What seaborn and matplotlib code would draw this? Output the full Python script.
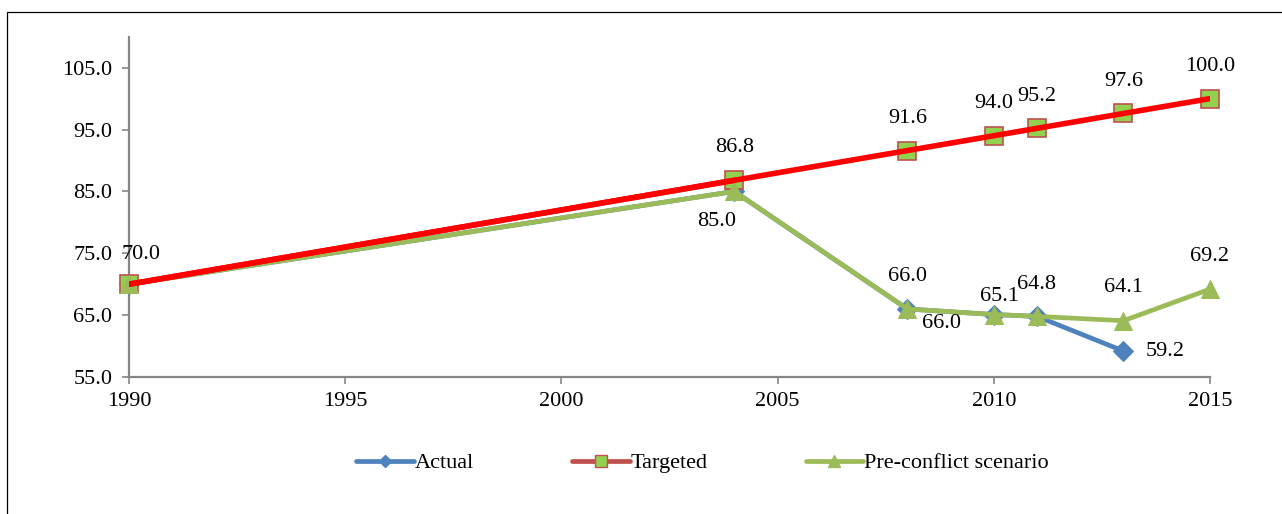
import matplotlib
matplotlib.use("Agg")
import matplotlib.pyplot as plt
import seaborn as sns
from matplotlib.lines import Line2D
from matplotlib.patches import Rectangle

# --------------------------
# Data
# --------------------------
actual_years = [1990, 2004, 2008, 2010, 2011, 2013]
actual_vals = [70.0, 85.0, 66.0, 65.1, 64.8, 59.2]

target_years = [1990, 2004, 2008, 2010, 2011, 2013, 2015]
target_vals = [70.0, 86.8, 91.6, 94.0, 95.2, 97.6, 100.0]

pre_years = [1990, 2004, 2008, 2010, 2011, 2013, 2015]
pre_vals = [70.0, 85.0, 66.0, 65.1, 64.8, 64.1, 69.2]

y_ticks = [55, 65, 75, 85, 95, 105]
x_ticks = [1990, 1995, 2000, 2005, 2010, 2015]

BLUE = "#4F81BD"
GREEN = "#9BBB59"
RED = "#FF0000"
DARKRED = "#C0504D"
SQ_FACE = "#92D050"
AXIS = "#868686"

sns.set_style("white")
plt.rcParams['font.family'] = ['Liberation Serif', 'DejaVu Serif']
plt.rcParams['text.color'] = 'black'
FS = 16

fig = plt.figure(figsize=(12.82, 5.14), dpi=100)
ax = fig.add_axes([0.1006, 0.2665, 0.8432, 0.662])

# outer chart border
fig.patches.append(Rectangle((7 / 1282, -0.05), 1.2, 1 - 12 / 514 + 0.05,
                             transform=fig.transFigure, fill=False,
                             edgecolor="#000000", linewidth=0.9))

# Actual
sns.lineplot(x=actual_years, y=actual_vals, ax=ax, color=BLUE, linewidth=3.4,
             marker="D", markersize=10, markeredgecolor=BLUE, zorder=3, clip_on=False)
# Targeted: markers below the red line
ax.plot(target_years, target_vals, linestyle="none", marker="s", markersize=13.5,
        markerfacecolor=SQ_FACE, markeredgecolor=DARKRED, markeredgewidth=1.2,
        zorder=4, clip_on=False)
sns.lineplot(x=target_years, y=target_vals, ax=ax, color=RED, linewidth=4, zorder=6)
# Pre-conflict scenario
sns.lineplot(x=pre_years, y=pre_vals, ax=ax, color=GREEN, linewidth=3.4,
             marker="^", markersize=13, markeredgecolor=GREEN, zorder=5, clip_on=False)
# red line over green along 1990-2004
ax.plot(target_years[:2], target_vals[:2], color=RED, linewidth=4, zorder=7)

# data labels (pixel offsets)
def label(xs, ys, offsets):
    for x, y, off in zip(xs, ys, offsets):
        if off is None:
            continue
        ax.annotate(f"{y:.1f}", (x, y), xytext=off, textcoords="offset pixels",
                    ha="center", va="center", fontsize=FS, color="black", zorder=10)

label(target_years, target_vals,
      [None, (0, 33), (0, 32), (0, 32), (0, 32), (0, 32), (0, 32)])
label(pre_years, pre_vals,
      [(12, 30), (-18, -30), (0, 32), None, (0, 32), (0, 33), (0, 33)])
label(actual_years, actual_vals,
      [None, None, (34, -15), (6, 18), None, (42, 0)])

ax.set_xlim(1990, 2015)
ax.set_ylim(55, 110)
ax.set_xticks(x_ticks)
ax.set_yticks(y_ticks)
ax.set_yticklabels([f"{v:.1f}" for v in y_ticks])
ax.tick_params(axis="both", labelsize=FS, labelcolor="black", length=5, width=1.2,
               direction="out", color=AXIS, left=True, bottom=True)
ax.tick_params(axis="y", pad=7)
ax.tick_params(axis="x", pad=6)
for s in ["top", "right"]:
    ax.spines[s].set_visible(False)
for s in ["left", "bottom"]:
    ax.spines[s].set_color(AXIS)
    ax.spines[s].set_linewidth(1.6)
ax.grid(False)
ax.set_xlabel("")
ax.set_ylabel("")

handles = [
    Line2D([], [], color=BLUE, linewidth=3.4, marker="D", markersize=6),
    Line2D([], [], color=DARKRED, linewidth=3.4, marker="s", markersize=9,
           markerfacecolor=SQ_FACE, markeredgecolor=DARKRED),
    Line2D([], [], color=GREEN, linewidth=3.4, marker="^", markersize=8),
]
leg = fig.legend(handles, ["Actual", "Targeted", "Pre-conflict scenario"],
                 loc="center", bbox_to_anchor=(0.548, 0.099), ncol=3, frameon=False,
                 fontsize=FS, handlelength=2.6, handletextpad=0.05, columnspacing=4.4)
for t in leg.get_texts():
    t.set_color("black")

fig.savefig("out.png", dpi=100)
